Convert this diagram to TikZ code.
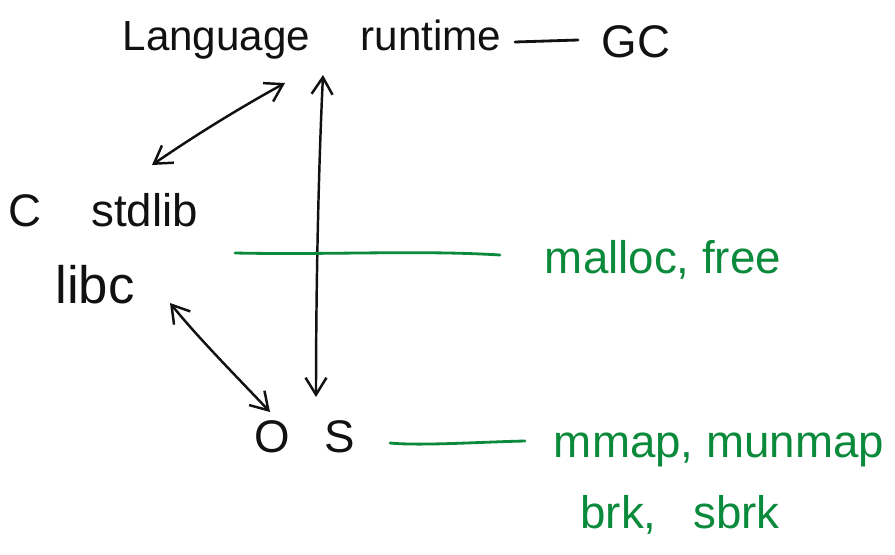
\documentclass[tikz,border=0pt]{standalone}
\usepackage{fontspec}
\setmainfont{Liberation Sans}
\usetikzlibrary{arrows.meta}
\definecolor{ink}{HTML}{111111}
\definecolor{pen}{HTML}{0B8A3C}
\newcommand{\gap}[1]{\hspace{#1em}}
\tikzset{
  word/.style={inner sep=0pt, font=\fontsize{26}{30}\selectfont, text=ink},
  greenword/.style={word, text=pen},
  twoway/.style={draw=ink, line width=1.4pt, {Straight Barb[length=3.4mm,width=4.2mm]}-{Straight Barb[length=3.4mm,width=4.2mm]}},
  rule/.style={line width=1.6pt, line cap=round},
}
\begin{document}
\begin{tikzpicture}[x=0.02cm, y=-0.02cm]
  \useasboundingbox (0,0) rectangle (895,554);

  % labels
  \node[word, font=\fontsize{24}{28}\selectfont] (lang) at (312,40) {Language\gap{1.2}runtime};
  \node[word] (gc) at (636,42) {GC};
  \node[word] (cstd) at (103,210) {C\gap{1.1}stdlib};
  \node[word, font=\fontsize{30}{34}\selectfont] (libc) at (95,285) {libc};
  \node[word] (os) at (305,437) {O\gap{0.75}S};
  \node[greenword] (malloc) at (663,260) {malloc, free};
  \node[greenword] (mmap) at (719,450) {mmap, munmap};
  \node[greenword] (brk) at (680,515) {brk,\gap{0.8}sbrk};

  % connector ends
  \coordinate (langL) at (285,83);
  \coordinate (langR) at (323,75);
  \coordinate (cstdT) at (152,165);
  \coordinate (libcB) at (170,303);
  \coordinate (osL) at (270,412);
  \coordinate (osT) at (316,397);
  \coordinate (libcR) at (235,253);
  \coordinate (mallocL) at (500,255);
  \coordinate (osR) at (390,443);
  \coordinate (mmapL) at (525,441);
  \coordinate (langE) at (515,42);
  \coordinate (gcW) at (578,40);

  % arrows between layers
  \draw[twoway] (cstdT) .. controls (200,132) and (245,105) .. (langL);
  \draw[twoway] (langR) .. controls (318,180) and (316,300) .. (osT);
  \draw[twoway] (libcB) .. controls (200,340) and (240,380) .. (osL);

  % dashes to the notes
  \draw[rule, draw=ink] (langE) -- (gcW);
  \draw[rule, draw=pen] (libcR) .. controls (330,255) and (420,250) .. (mallocL);
  \draw[rule, draw=pen] (osR) .. controls (420,446) and (480,442) .. (mmapL);
\end{tikzpicture}
\end{document}
